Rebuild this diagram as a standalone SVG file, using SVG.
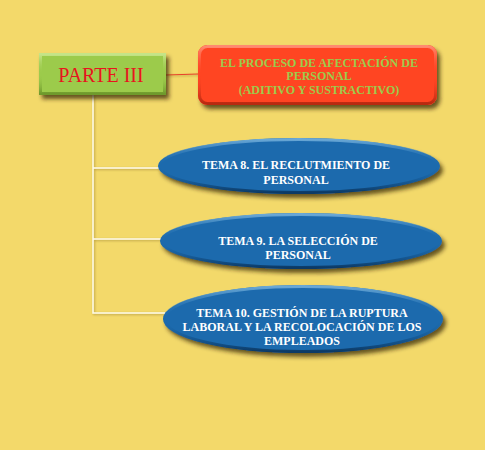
<svg xmlns="http://www.w3.org/2000/svg" width="485" height="450" viewBox="0 0 485 450">
<style>
.t{font-family:"Liberation Serif","Times New Roman",serif;font-weight:bold;font-size:12px;text-anchor:middle}
.w{fill:#ffffff}
.g{fill:#9ccb4c}
.conn{stroke:#fffbe8;stroke-width:1.5;fill:none}
.bev{fill:none;stroke:url(#bv);stroke-width:3}
</style>
<defs>
<filter id="sh" x="-20%" y="-30%" width="140%" height="170%">
<feDropShadow dx="3" dy="4" stdDeviation="2" flood-color="#2a1e00" flood-opacity="0.7"/>
</filter>
<filter id="lsh" x="-20%" y="-20%" width="140%" height="140%">
<feDropShadow dx="1" dy="1" stdDeviation="0.8" flood-color="#8a7020" flood-opacity="0.6"/>
</filter>
<linearGradient id="bv" x1="0" y1="0" x2="0" y2="1">
<stop offset="0" stop-color="#6aa8d6"/>
<stop offset="0.5" stop-color="#1a6aad" stop-opacity="0"/>
<stop offset="1" stop-color="#0c3a66"/>
</linearGradient>
<linearGradient id="gv" x1="0" y1="0" x2="0" y2="1">
<stop offset="0" stop-color="#c4e487"/>
<stop offset="0.5" stop-color="#9ccb4c" stop-opacity="0"/>
<stop offset="1" stop-color="#6f9a2c"/>
</linearGradient>
<linearGradient id="rv" x1="0" y1="0" x2="0" y2="1">
<stop offset="0" stop-color="#ff8a70"/>
<stop offset="0.5" stop-color="#ff4424" stop-opacity="0"/>
<stop offset="1" stop-color="#b82a10"/>
</linearGradient>
</defs>
<rect width="485" height="450" fill="#f3d96a"/>
<g id="connectors" filter="url(#lsh)">
<line x1="166" y1="75" x2="198" y2="74" stroke="#e8402a" stroke-width="1"/>
<polyline class="conn" points="93,95 93,313 166,313"/>
<line class="conn" x1="93" y1="168" x2="162" y2="168"/>
<line class="conn" x1="93" y1="239" x2="164" y2="239"/>
</g>
<g id="parte">
<rect x="39" y="53" width="127" height="42" fill="#9ccb4c" filter="url(#sh)"/>
<rect x="40.5" y="54.5" width="124" height="39" fill="none" stroke="url(#gv)" stroke-width="3"/>
<text x="101" y="82" font-family="Liberation Serif,'Times New Roman',serif" font-size="20" fill="#e8141e" text-anchor="middle">PARTE III</text>
</g>
<g id="proceso">
<rect x="198" y="45" width="239" height="60" rx="9" fill="#ff4424" filter="url(#sh)"/>
<rect x="199.5" y="46.5" width="236" height="57" rx="8" fill="none" stroke="url(#rv)" stroke-width="3"/>
<text class="t g" x="319" y="67">EL PROCESO DE AFECTACIÓN DE</text>
<text class="t g" x="319" y="80">PERSONAL</text>
<text class="t g" x="319" y="94">(ADITIVO Y SUSTRACTIVO)</text>
</g>
<g id="tema8">
<ellipse cx="299" cy="166" rx="141" ry="28" fill="#1a6aad" filter="url(#sh)"/>
<ellipse class="bev" cx="299" cy="166" rx="139.5" ry="26.5"/>
<text class="t w" x="296" y="169">TEMA 8. EL RECLUTMIENTO DE</text>
<text class="t w" x="296" y="184">PERSONAL</text>
</g>
<g id="tema9">
<ellipse cx="301" cy="241" rx="141" ry="28" fill="#1a6aad" filter="url(#sh)"/>
<ellipse class="bev" cx="301" cy="241" rx="139.5" ry="26.5"/>
<text class="t w" x="298" y="245">TEMA 9. LA SELECCIÓN DE</text>
<text class="t w" x="298" y="259">PERSONAL</text>
</g>
<g id="tema10">
<ellipse cx="303" cy="319" rx="140" ry="34" fill="#1a6aad" filter="url(#sh)"/>
<ellipse class="bev" cx="303" cy="319" rx="138.5" ry="32.5"/>
<text class="t w" x="302" y="317">TEMA 10. GESTIÓN DE LA RUPTURA</text>
<text class="t w" x="302" y="331">LABORAL Y LA RECOLOCACIÓN DE LOS</text>
<text class="t w" x="302" y="345">EMPLEADOS</text>
</g>
</svg>
